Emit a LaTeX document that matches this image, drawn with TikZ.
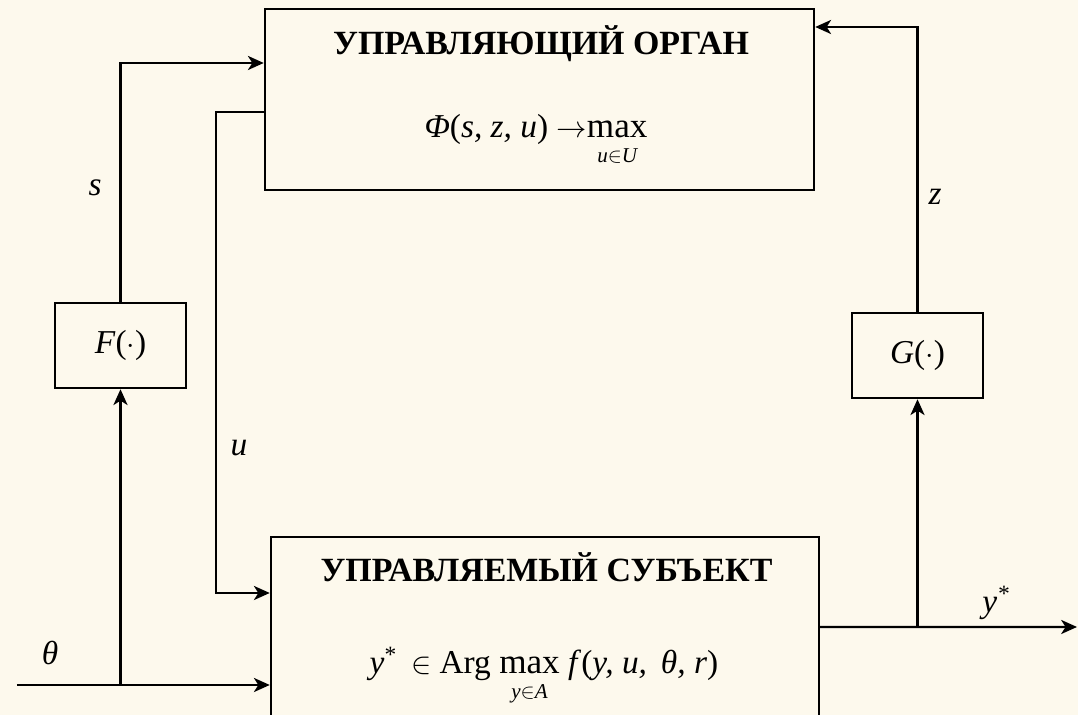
\documentclass[tikz,border=0pt]{standalone}
\usepackage{fontspec}
\setmainfont{Liberation Serif}
\usetikzlibrary{arrows.meta}
\definecolor{paper}{HTML}{FDF9ED}
\tikzstyle{block}=[draw, line width=1.4pt, inner sep=0pt]
\tikzstyle{signal}=[line width=1.4pt, -{Stealth[length=9pt, width=8pt, inset=2.5pt]}]
\tikzstyle{signal label}=[font=\fontsize{19}{23}\selectfont\itshape]
\tikzstyle{block title}=[anchor=base, font=\fontsize{19.3}{23}\selectfont\bfseries]
\tikzstyle{block formula}=[anchor=base, font=\fontsize{19}{23}\selectfont]
\newcommand{\undermax}[1]{\vtop{\offinterlineskip\halign{\hfil##\hfil\cr
  \fontsize{20}{24}\selectfont max\cr\noalign{\kern 6pt}
  \fontsize{12}{14}\selectfont\itshape #1\cr}}}

\begin{document}
\begin{tikzpicture}
      \path[use as bounding box, fill=paper] (0, 0) rectangle (21.56, 14.30);

      \node[block, minimum width=10.98cm, minimum height=3.62cm] (organ) at (10.79, 12.31) {};
      \node[block title] (organ title) at (10.82, 13.20) {УПРАВЛЯЮЩИЙ ОРГАН};
      \node[block formula] (organ goal) at (10.72, 11.54)
        {\textit{Φ}(\textit{s, z, u}) $\rightarrow$\undermax{u$\in$U}};

      \node[block, minimum width=10.96cm, minimum height=3.70cm] (subject) at (10.90, 1.71) {};
      \node[block title] (subject title) at (10.93, 2.66) {УПРАВЛЯЕМЫЙ СУБЪЕКТ};
      \node[block formula] (subject goal) at (10.88, 0.82)
        {\textit{y}\textsuperscript{*}\, $\in$ Arg \undermax{y$\in$A} \textit{f}(\textit{y, u, \,θ, r})};

      \node[block, minimum width=2.62cm, minimum height=1.70cm, block formula, anchor=center] (F) at (2.41, 7.39) {\textit{F}($\cdot$)};
      \node[block, minimum width=2.62cm, minimum height=1.70cm, block formula, anchor=center] (G) at (18.35, 7.19) {\textit{G}($\cdot$)};

      \coordinate (s in) at ([yshift=0.73cm]organ.west);
      \coordinate (u out) at ([yshift=-0.25cm]organ.west);
      \coordinate (z in) at ([yshift=1.45cm]organ.east);
      \coordinate (u in) at ([yshift=0.73cm]subject.west);
      \coordinate (theta in) at ([yshift=-1.11cm]subject.west);
      \coordinate (y out) at ([yshift=0.05cm]subject.east);
      \coordinate (theta src) at (0.34, 0.60);
      \coordinate (y end) at (21.54, 1.76);

      \draw[signal] (F.north) |- (s in);
      \draw[signal] (u out) -- ++(-0.96, 0) |- (u in);
      \draw[signal] (G.north) |- (z in);
      \draw[signal] (theta src) -- (theta in);
      \draw[signal] (F.south |- theta in) -- (F.south);
      \draw[signal] (y out) -- (y end);
      \draw[signal] (G.south |- y out) -- (G.south);

      \node[signal label] (s label) at (1.90, 10.54) {s};
      \node[signal label] (u label) at (4.78, 5.34) {u};
      \node[signal label] (z label) at (18.70, 10.36) {z};
      \node[signal label] (theta label) at (1.00, 1.24) {θ};
      \node[signal label] (y label) at (19.92, 2.24) {y\textsuperscript{*}};
    \end{tikzpicture}
\end{document}
